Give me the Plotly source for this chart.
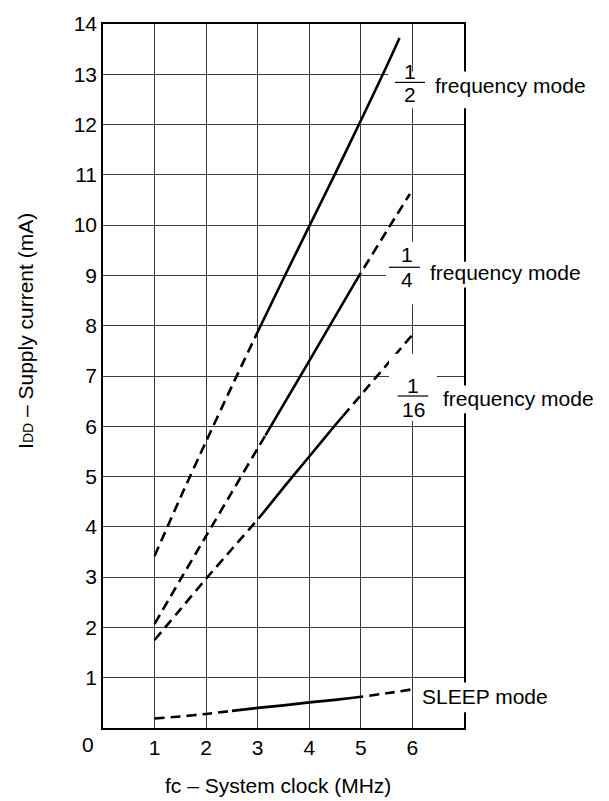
import plotly.graph_objects as go

# ---------------- data ----------------
half_x = [1, 1.5, 2, 2.5, 3, 3.5, 4, 4.5, 5, 5.5, 5.75]
half_y = [3.42, 4.58, 5.7, 6.8, 7.88, 8.94, 9.98, 11.02, 12.08, 13.16, 13.72]
half_segments = [(1, 3, "dash"), (3, 5.75, "solid")]

quarter_x = [1, 1.5, 2, 2.5, 3, 3.15, 3.5, 4, 4.5, 4.9, 5, 5.5, 5.95]
quarter_y = [2.07, 2.95, 3.82, 4.69, 5.56, 5.82, 6.43, 7.3, 8.18, 8.88, 9.05, 9.88, 10.62]
quarter_segments = [(1, 3.15, "dash"), (3.15, 4.9, "solid"), (4.9, 5.95, "dash")]

sixteenth_x = [1, 1.5, 2, 2.5, 3, 3.1, 3.5, 4, 4.5, 4.65, 5, 5.5, 6]
sixteenth_y = [1.75, 2.36, 2.97, 3.56, 4.15, 4.27, 4.78, 5.4, 6.02, 6.2, 6.62, 7.22, 7.82]
sixteenth_segments = [(1, 3.1, "dash"), (3.1, 4.65, "solid"), (4.65, 6, "dash")]

sleep_x = [1, 1.5, 2, 2.5, 3, 3.5, 4, 4.5, 4.85, 5.5, 6]
sleep_y = [0.19, 0.23, 0.28, 0.34, 0.4, 0.45, 0.51, 0.56, 0.6, 0.69, 0.77]
sleep_segments = [(1, 2.5, "dash"), (2.5, 4.85, "solid"), (4.85, 6, "dash")]

x_ticks = [1, 2, 3, 4, 5, 6]
y_ticks = list(range(1, 15))

x_title = "fc – System clock (MHz)"
y_title = "I<span style='font-size:14px'>DD</span> – Supply current (mA)"

# ---------------- layout geometry ----------------
W, H = 609, 801
ML, MR, MT, MB = 103, 145, 17, 73
PW, PH = W - ML - MR, H - MT - MB
FONT = "Liberation Sans, Arial, Helvetica, sans-serif"
FS = 21


def px(xp):
    return (xp - ML) / PW


def py(yp):
    return 1 - (yp - MT) / PH


fig = go.Figure()

for xs, ys, segs in [
    (half_x, half_y, half_segments),
    (quarter_x, quarter_y, quarter_segments),
    (sixteenth_x, sixteenth_y, sixteenth_segments),
    (sleep_x, sleep_y, sleep_segments),
]:
    for x0, x1, style in segs:
        sx = [x for x in xs if x0 - 1e-9 <= x <= x1 + 1e-9]
        sy = [y for x, y in zip(xs, ys) if x0 - 1e-9 <= x <= x1 + 1e-9]
        fig.add_trace(go.Scatter(
            x=sx, y=sy, mode="lines",
            line=dict(color="black", width=2.6,
                      dash="10px,6px" if style == "dash" else "solid",
                      shape="spline", smoothing=0.6),
            showlegend=False, hoverinfo="skip",
        ))

shapes = []
annotations = []

# white backgrounds behind the labels (they cut grid lines and the frame)
for x0, x1, y0, y1 in [
    (388, 594, 65, 102),
    (386, 428, 237, 300),
    (428, 584, 257, 283),
    (389, 437, 350, 418),
    (437, 598, 382, 410),
    (415, 556, 682, 712),
]:
    shapes.append(dict(type="rect", xref="paper", yref="paper",
                       x0=px(x0), x1=px(x1), y0=py(y1), y1=py(y0),
                       fillcolor="white", line=dict(width=0), layer="above"))

# fraction labels: numerator, bar, denominator, text
fractions = [
    ("1", "2", 410, 64.5, 88.5, 395, 425, 76, 432.7, 79),
    ("1", "4", 406.7, 250, 275, 389, 420, 262.7, 428.3, 268),
    ("1", "16", 413, 382, 406.5, 397.7, 428.3, 392.7, 441, 395),
]
for num, den, cx, ny, dy, bx0, bx1, by, tx, ty in fractions:
    shapes.append(dict(type="line", xref="paper", yref="paper",
                       x0=px(bx0), x1=px(bx1), y0=py(by), y1=py(by),
                       line=dict(color="black", width=1.2), layer="above"))
    annotations.append(dict(text=num, x=px(cx), y=py(ny), xref="paper", yref="paper",
                            showarrow=False, xanchor="center", yanchor="middle",
                            font=dict(size=FS, color="black", family=FONT)))
    annotations.append(dict(text=den, x=px(cx), y=py(dy), xref="paper", yref="paper",
                            showarrow=False, xanchor="center", yanchor="middle",
                            font=dict(size=FS, color="black", family=FONT)))
    annotations.append(dict(text="frequency mode", x=px(tx), y=py(ty), xref="paper", yref="paper",
                            showarrow=False, xanchor="left", yanchor="middle",
                            font=dict(size=FS, color="black", family=FONT)))

annotations.append(dict(text="SLEEP mode", x=px(420), y=py(696), xref="paper", yref="paper",
                        showarrow=False, xanchor="left", yanchor="middle",
                        font=dict(size=FS, color="black", family=FONT)))
annotations.append(dict(text="0", x=px(88), y=py(745), xref="paper", yref="paper",
                        showarrow=False, xanchor="center", yanchor="middle",
                        font=dict(size=FS, color="black", family=FONT)))
annotations.append(dict(text=x_title, x=px(277.5), y=py(786), xref="paper", yref="paper",
                        showarrow=False, xanchor="center", yanchor="middle",
                        font=dict(size=FS, color="black", family=FONT)))
annotations.append(dict(text=y_title, x=px(26), y=py(327), xref="paper", yref="paper",
                        showarrow=False, xanchor="center", yanchor="middle", textangle=-90,
                        font=dict(size=FS, color="black", family=FONT)))

fig.update_layout(
    width=W, height=H,
    margin=dict(l=ML, r=MR, t=MT, b=MB, pad=0),
    paper_bgcolor="white", plot_bgcolor="white",
    shapes=shapes, annotations=annotations,
    font=dict(family=FONT, size=FS, color="black"),
    xaxis=dict(range=[0, 7], tickvals=x_ticks, ticktext=[str(v) for v in x_ticks],
               showgrid=True, gridcolor="#3a3a3a", gridwidth=1,
               showline=True, linecolor="black", linewidth=1.6, mirror=True,
               ticks="", zeroline=False, fixedrange=True,
               tickfont=dict(size=FS, family=FONT, color="black")),
    yaxis=dict(range=[0, 14], tickvals=y_ticks, ticktext=[str(v) for v in y_ticks],
               showgrid=True, gridcolor="#3a3a3a", gridwidth=1,
               showline=True, linecolor="black", linewidth=1.6, mirror=True,
               ticks="", zeroline=False, fixedrange=True,
               tickfont=dict(size=FS, family=FONT, color="black")),
)

fig.write_html(
    "out.html",
    config={"displayModeBar": False, "responsive": False},
    post_script="document.body.style.margin='0';document.body.style.overflow='hidden';",
)
